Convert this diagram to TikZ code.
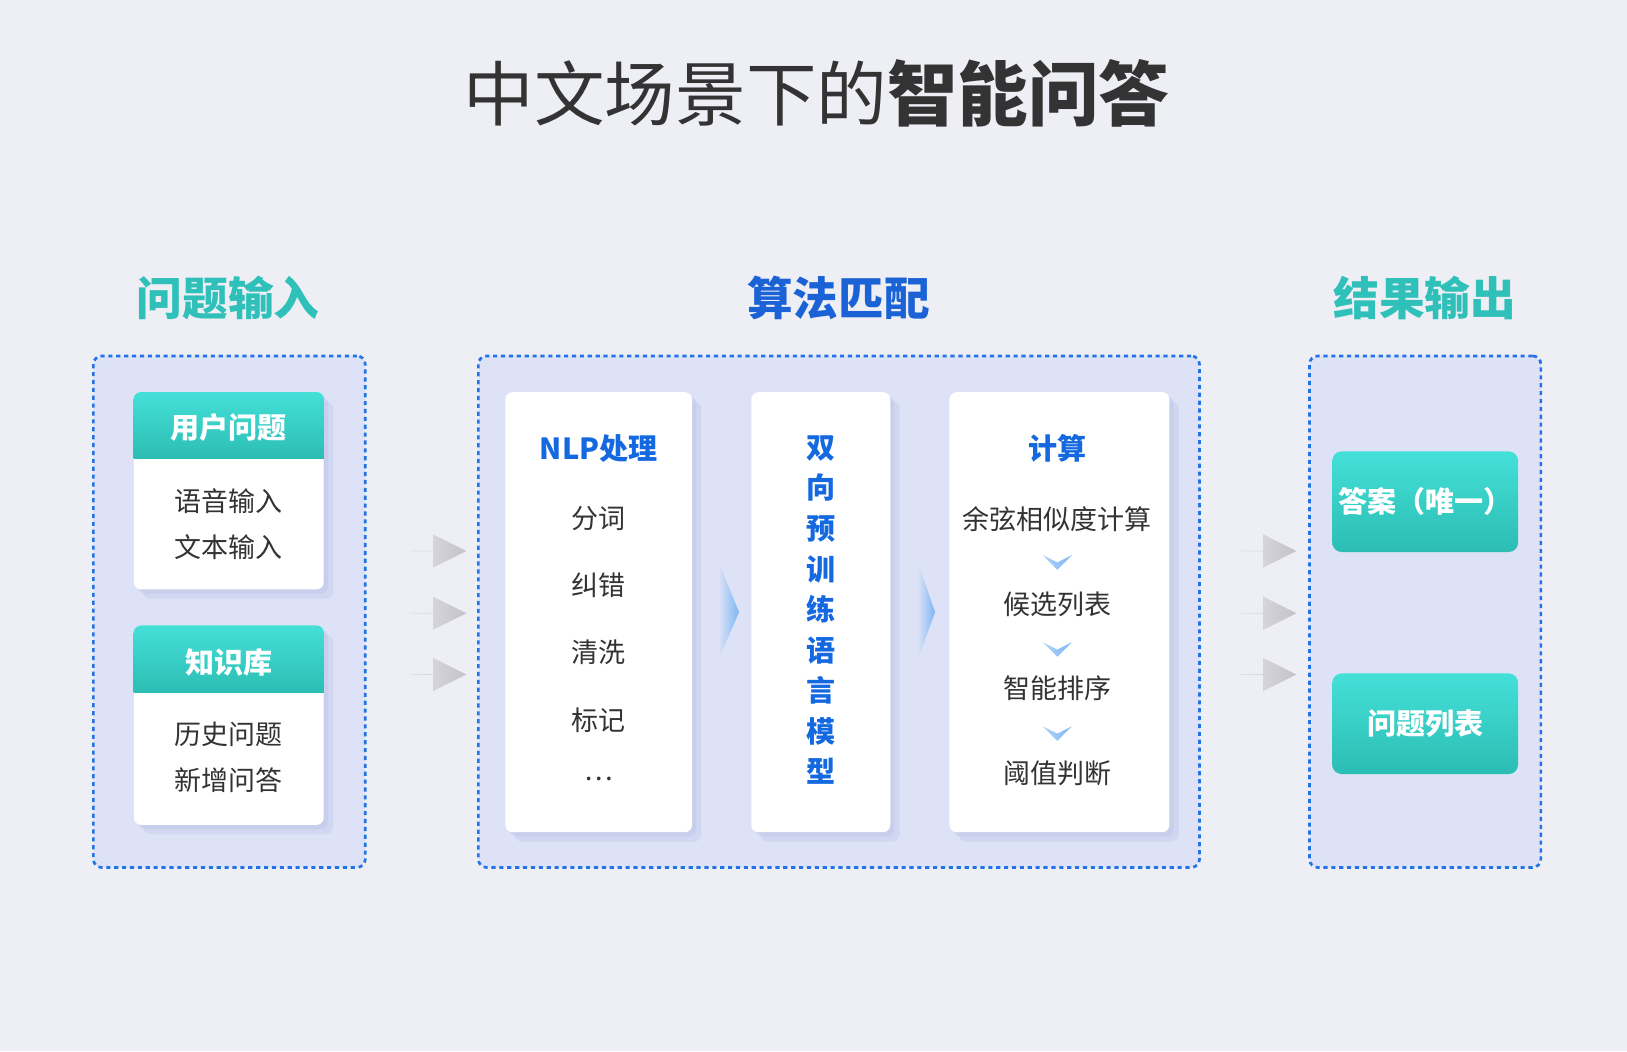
\documentclass[tikz,border=0pt]{standalone}
\usepackage{fontspec}
\setmainfont{Noto Sans CJK SC}
\usetikzlibrary{positioning,calc,shapes.arrows}
\definecolor{bgcol}{HTML}{EEEFF4}
\definecolor{boxfill}{HTML}{DDE2F6}
\definecolor{dotblue}{HTML}{2273EA}
\definecolor{tealtxt}{HTML}{30C0BA}
\definecolor{tealtop}{HTML}{44E0D8}
\definecolor{tealbot}{HTML}{2CBDB3}
\definecolor{textblue}{HTML}{1469E0}
\definecolor{headblue}{HTML}{1A62D6}
\definecolor{txtgray}{HTML}{333333}
\definecolor{titlegray}{HTML}{333333}
\definecolor{chevblue}{HTML}{7DB6F4}
\definecolor{arrgray}{HTML}{C2C2C8}
\definecolor{shadowcol}{HTML}{C3CAEA}
\tikzset{
 dotbox/.style={shape=rectangle,draw=dotblue,line width=2.6pt,dash pattern=on 4pt off 3.6pt,fill=boxfill,rounded corners=8pt},
 softshadow/.style={preaction={fill=shadowcol,opacity=0.45,transform canvas={shift={(9pt,-9pt)}}},
   preaction={fill=shadowcol,opacity=0.6,transform canvas={shift={(4pt,-4pt)}}}},
 card/.style={shape=rectangle,fill=white,rounded corners=7pt,inner sep=0pt,softshadow},
 button/.style={shape=rectangle,rounded corners=9pt,top color=tealtop,bottom color=tealbot,
   minimum width=179pt,minimum height=97pt,text=white,font=\fontsize{28}{30}\selectfont\bfseries},
 hdr/.style={text=white,font=\fontsize{28}{30}\selectfont\bfseries},
 item/.style={text=txtgray,font=\fontsize{26}{28}\selectfont},
 bluehdr/.style={text=textblue,font=\fontsize{28}{30}\selectfont\bfseries},
 section/.style={font=\fontsize{44}{46}\selectfont\bfseries},
 grayarrow/.style={single arrow,inner sep=0pt,minimum height=54pt,minimum width=32pt,
   single arrow head extend=8pt,single arrow tip angle=53,left color=bgcol!70!arrgray,right color=arrgray},
 downchev/.style={left color=chevblue!60,right color=chevblue}
}
\begin{document}
\begin{tikzpicture}[x=1pt,y=-1pt]
\fill[bgcol] (0,0) rectangle (1568,1013);
\useasboundingbox (0,0) rectangle (1568,1013);

\path (787,90) node[name=title,font=\fontsize{68}{70}\selectfont,text=titlegray] {中文场景下的\textbf{智能问答}};

\path (220,287) node[name=secin,section,text=tealtxt] {问题输入};
\path (808,287) node[name=secalg,section,text=headblue] {算法匹配};
\path (1373,287) node[name=secout,section,text=tealtxt] {结果输出};

\path (221,589.5) node[name=inbox,dotbox,minimum width=262pt,minimum height=493pt] {};
\path (808.5,589.5) node[name=algbox,dotbox,minimum width=695pt,minimum height=493pt] {};
\path (1373.5,589.5) node[name=outbox,dotbox,minimum width=223pt,minimum height=493pt] {};

% input cards
\path (220.5,473) node[name=uq,card,minimum width=183pt,minimum height=190pt] {};
\begin{scope}
\clip[rounded corners=7pt] (uq.north west) rectangle (uq.south east);
\shade[top color=tealtop,bottom color=tealbot] (uq.north west) rectangle ($(uq.north east)+(0,64)$);
\end{scope}
\path (220.5,412) node[name=uqh,hdr] {用户问题};
\path (220.5,483) node[name=uq1,item] {语音输入};
\path (220.5,527) node[name=uq2,item] {文本输入};

\path (220.5,699) node[name=kb,card,minimum width=183pt,minimum height=192pt] {};
\begin{scope}
\clip[rounded corners=7pt] (kb.north west) rectangle (kb.south east);
\shade[top color=tealtop,bottom color=tealbot] (kb.north west) rectangle ($(kb.north east)+(0,65)$);
\end{scope}
\path (220.5,638) node[name=kbh,hdr] {知识库};
\path (220.5,708) node[name=kb1,item] {历史问题};
\path (220.5,752) node[name=kb2,item] {新增问答};

% gray arrows
\path (422,531) node[name=ga1,grayarrow] {};
\path (422,591) node[name=ga2,grayarrow] {};
\path (422,650) node[name=ga3,grayarrow] {};
\path (1222,531) node[name=gb1,grayarrow] {};
\path (1222,591) node[name=gb2,grayarrow] {};
\path (1222,650) node[name=gb3,grayarrow] {};

% algorithm cards
\path (577,590) node[name=nlp,card,minimum width=180pt,minimum height=424pt] {};
\path (791,590) node[name=bertcard,card,minimum width=134pt,minimum height=424pt] {};
\path (1021,590) node[name=calc,card,minimum width=212pt,minimum height=424pt] {};

\shade[left color=boxfill,right color=chevblue] ($(nlp.east)+(25,-49)$) -- ($(nlp.east)+(45,0)$) -- ($(nlp.east)+(25,46)$) -- cycle;
\shade[left color=boxfill,right color=chevblue] ($(bertcard.east)+(26,-49)$) -- ($(bertcard.east)+(43,0)$) -- ($(bertcard.east)+(26,46)$) -- cycle;

\path (577,432) node[name=nlph,bluehdr] {NLP处理};
\path (577,500) node[name=nlp1,item] {分词};
\path (577,564) node[name=nlp2,item] {纠错};
\path (577,629) node[name=nlp3,item] {清洗};
\path (577,694) node[name=nlp4,item] {标记};
\path (577,751) node[name=nlp5,item] {…};

\path (791,588) node[name=bert,align=center,text=textblue,font=\fontsize{28}{39.1}\selectfont\bfseries] {双\\向\\预\\训\\练\\语\\言\\模\\型};

\path (1019,432) node[name=calch,bluehdr] {计算};
\path (1019,500) node[name=calc1,item] {余弦相似度计算};
\path (1019,582) node[name=calc2,item] {候选列表};
\path (1019,663) node[name=calc3,item] {智能排序};
\path (1019,745) node[name=calc4,item] {阈值判断};
\shade[downchev] ($(calc1)+(-14,35)$) -- ($(calc1)+(0,42)$) -- ($(calc1)+(14,35)$) -- ($(calc1)+(0,49)$) -- cycle;
\shade[downchev] ($(calc2)+(-14,37)$) -- ($(calc2)+(0,44)$) -- ($(calc2)+(14,37)$) -- ($(calc2)+(0,51)$) -- cycle;
\shade[downchev] ($(calc3)+(-14,37)$) -- ($(calc3)+(0,44)$) -- ($(calc3)+(14,37)$) -- ($(calc3)+(0,51)$) -- cycle;

% output
\path (1373.5,483.5) node[name=ans,button] {答案（唯一）};
\path (1373.5,697.5) node[name=qlist,button] {问题列表};
\end{tikzpicture}
\end{document}
